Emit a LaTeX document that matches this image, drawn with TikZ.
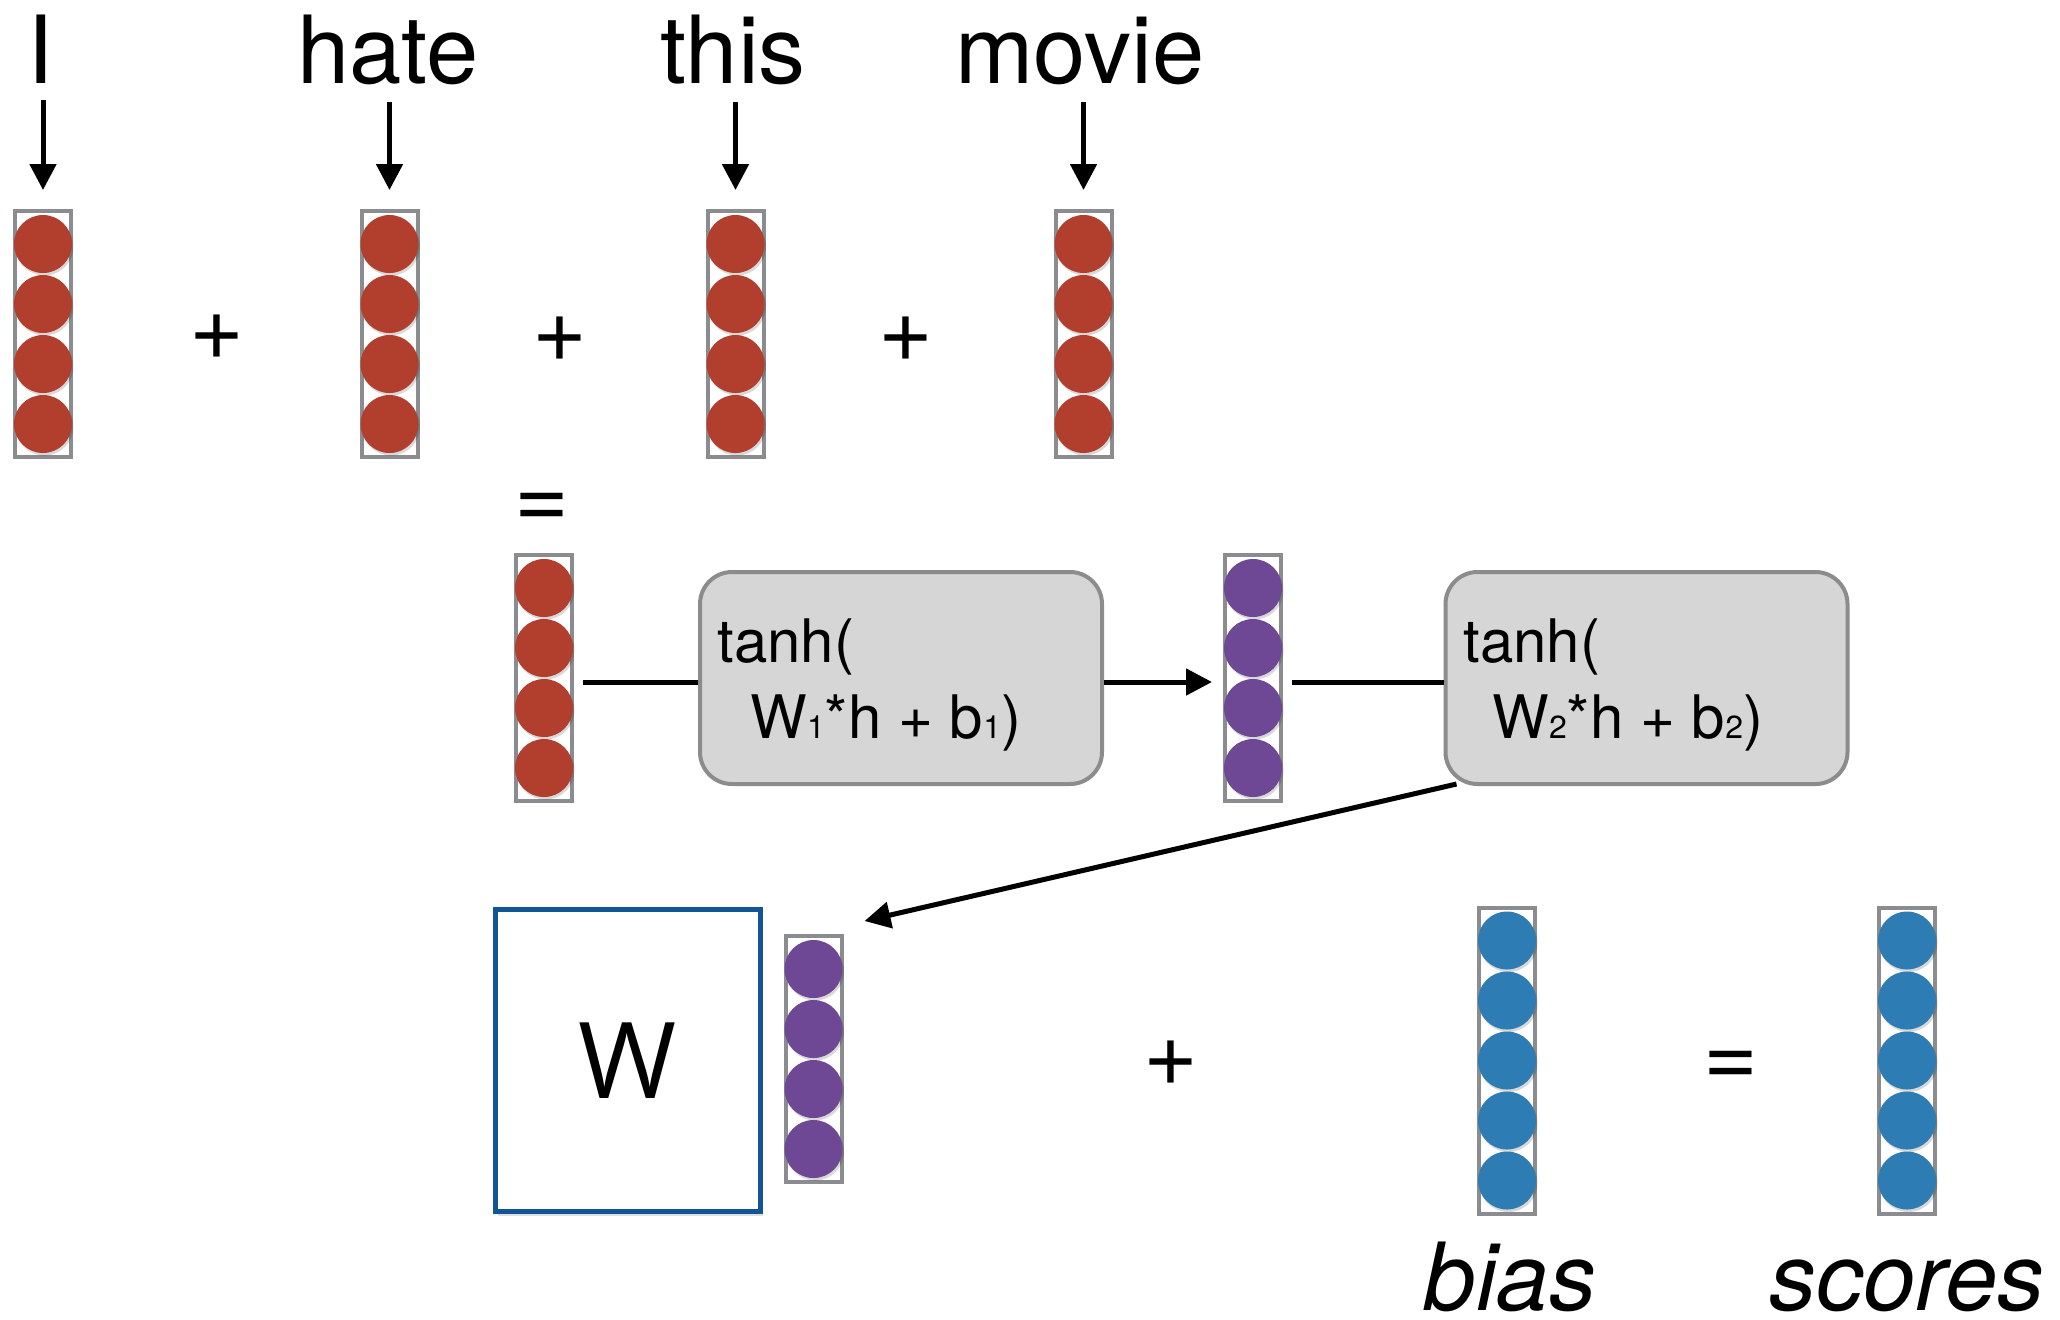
\documentclass[tikz,border=0pt]{standalone}
\usepackage{fontspec}
\setmainfont{TeX Gyre Heros}
\newfontfamily\wfont{Open Sans}
\usetikzlibrary{arrows.meta,calc,shadows}
\definecolor{vred}{RGB}{178,62,45}
\definecolor{vpurple}{RGB}{110,72,148}
\definecolor{vblue}{RGB}{45,125,180}
\definecolor{vgray}{RGB}{138,140,143}
\definecolor{boxfill}{RGB}{214,214,214}
\definecolor{boxline}{RGB}{140,140,140}
\definecolor{wblue}{RGB}{18,85,150}
\newcommand\lowdig[1]{{\fontsize{16}{18}\selectfont #1}}
\tikzset{
  vecbox/.style={draw=vgray, line width=2pt, fill=white, minimum width=28pt, inner sep=0pt},
  word/.style={inner sep=0pt, anchor=base, font=\fontsize{47}{56}\selectfont},
  itword/.style={inner sep=0pt, anchor=base, font=\fontsize{47}{56}\selectfont\itshape},
  op/.style={inner sep=0pt, font=\fontsize{47}{56}\selectfont},
  fnbox/.style={draw=boxline, fill=boxfill, line width=2pt, rounded corners=16pt,
    minimum width=201pt, minimum height=106pt, inner sep=0pt},
  fntext/.style={inner sep=0pt, anchor=base west, font=\fontsize{30}{36}\selectfont},
  wbox/.style={draw=wblue, fill=white, line width=2.5pt, minimum width=132.5pt,
    minimum height=151pt, inner sep=0pt, font=\wfont\fontsize{53}{60}\selectfont,
    drop shadow={opacity=0.25, shadow xshift=1pt, shadow yshift=-2pt}},
  conn/.style={line width=2.5pt},
  arr/.style={line width=2.5pt, -{Triangle[length=13pt,width=13pt]}},
}
\newcommand\wvec[5]{%
  \pgfmathsetmacro\vech{(#4*60+10)*0.5-2}%
  \node[vecbox, minimum height=\vech pt] (#1) at (#2,#3) {};
  \foreach \k in {1,...,#4}{%
    \pgfmathsetmacro\off{(\k-(#4+1)/2)*60}%
    \fill[black,opacity=0.15] ($(#1.center)+(1.5,\off+2.5)$) circle[radius=14.5pt];
    \fill[#5] ($(#1.center)+(0,\off)$) circle[radius=14.5pt];
  }%
}
\begin{document}
\begin{tikzpicture}[x=0.5pt,y=-0.5pt]
\useasboundingbox (0,0) rectangle (2060,1319);

% top words
\node[word] (wI) at (41,83) {I};
\node[word] (whate) at (388,83) {hate};
\node[word] (wthis) at (733,83) {this};
\node[word] (wmovie) at (1080,83) {movie};

% top vectors
\wvec{vI}{43}{334}{4}{vred}
\wvec{vhate}{389.5}{334}{4}{vred}
\wvec{vthis}{735.5}{334}{4}{vred}
\wvec{vmovie}{1083.5}{334}{4}{vred}

\draw[arr] ($(wI.south -| vI.north)+(0,17)$) -- ($(vI.north)+(0,-19)$);
\draw[arr] ($(whate.south -| vhate.north)+(0,17)$) -- ($(vhate.north)+(0,-19)$);
\draw[arr] ($(wthis.south -| vthis.north)+(0,17)$) -- ($(vthis.north)+(0,-19)$);
\draw[arr] ($(wmovie.south -| vmovie.north)+(0,17)$) -- ($(vmovie.north)+(0,-19)$);

\node[op] (p1) at (217,337) {+};
\node[op] (p2) at (560,339) {+};
\node[op] (p3) at (906,339) {+};
\node[op] (e1) at (542,511) {=};

% middle row
\wvec{mv1}{544}{678}{4}{vred}
\node[fnbox] (box1) at (901,678) {};
\node[fntext] (t1a) at (717,662) {tanh(};
\node[fntext] (t1b) at (750,738) {W\lowdig{1}*h + b\lowdig{1})};
\wvec{mv2}{1253}{678}{4}{vpurple}
\node[fnbox] (box2) at (1646.5,678) {};
\node[fntext] (t2a) at (1463,662) {tanh(};
\node[fntext] (t2b) at (1492,738) {W\lowdig{2}*h + b\lowdig{2})};

\draw[conn] ($(mv1.east)+(9,4)$) -- ($(box1.west)+(0,4)$);
\draw[arr] ($(box1.east)+(0,4)$) -- ($(mv2.west)+(-11,4)$);
\draw[conn] ($(mv2.east)+(9,4)$) -- ($(box2.west)+(0,4)$);

% bottom row
\node[wbox] (W) at (628,1060.5) {W};
\wvec{bv}{813.5}{1059}{4}{vpurple}
\coordinate (dstart) at ($(box2.south west)+(13,-2)$);
\coordinate (dend) at ($(bv.north east)+(21,-13)$);
\draw[arr] (dstart) -- (dend);

\node[op] (p4) at (1171,1063) {+};
\wvec{biasv}{1507}{1060.5}{5}{vblue}
\node[op] (e2) at (1731,1069) {=};
\wvec{scorev}{1907}{1060.5}{5}{vblue}

\node[itword] (lbias) at (1510,1310) {bias};
\node[itword] (lscores) at (1907,1310) {scores};
\end{tikzpicture}
\end{document}
